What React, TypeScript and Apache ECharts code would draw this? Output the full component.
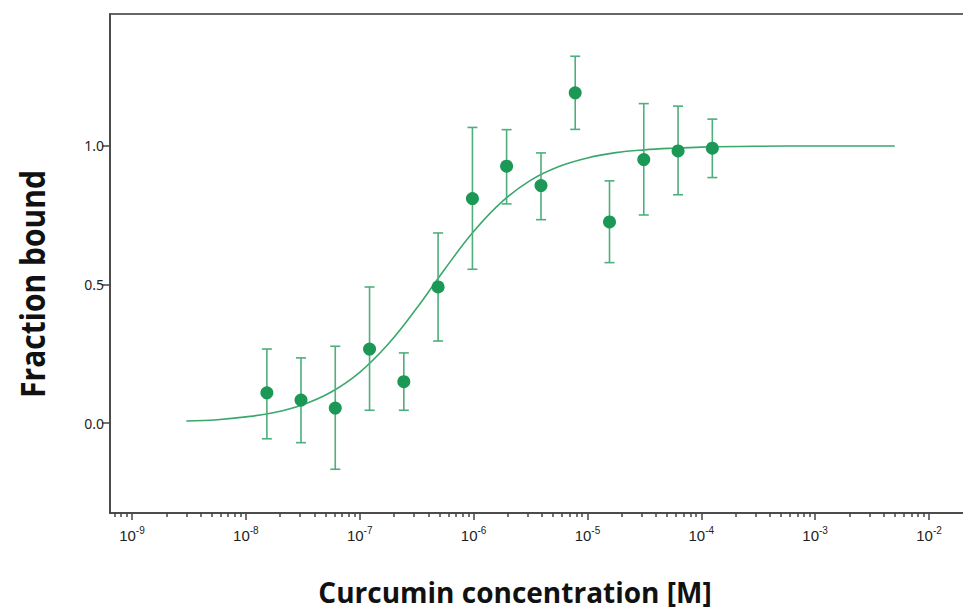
import React, { useEffect, useRef } from "react";
import * as echarts from "echarts";

// Measured data (concentration in M, fraction bound, error bar low/high)
const concentrations = [
  1.53e-8, 3.05e-8, 6.1e-8, 1.22e-7, 2.44e-7, 4.88e-7, 9.77e-7, 1.95e-6,
  3.91e-6, 7.81e-6, 1.5625e-5, 3.125e-5, 6.25e-5, 1.25e-4,
];
const fractionBound = [
  0.109, 0.083, 0.054, 0.267, 0.149, 0.491, 0.81, 0.927, 0.857, 1.192, 0.726,
  0.951, 0.982, 0.992,
];
const errLow = [
  -0.057, -0.071, -0.167, 0.046, 0.046, 0.296, 0.555, 0.791, 0.734, 1.06,
  0.579, 0.751, 0.824, 0.886,
];
const errHigh = [
  0.267, 0.235, 0.277, 0.491, 0.253, 0.686, 1.067, 1.059, 0.975, 1.324, 0.874,
  1.153, 1.144, 1.097,
];

// Fitted curve
const fitConc = [
  3e-9, 5.62e-9, 1e-8, 1.78e-8, 3.16e-8, 5.62e-8, 1e-7, 1.78e-7, 3.16e-7,
  5.62e-7, 1e-6, 1.78e-6, 3.16e-6, 5.62e-6, 1e-5, 1.78e-5, 3.16e-5, 5.62e-5,
  1e-4, 3.16e-4, 1e-3, 5e-3,
];
const fitValue = [
  0.007, 0.012, 0.022, 0.038, 0.066, 0.112, 0.183, 0.285, 0.414, 0.557, 0.691,
  0.799, 0.876, 0.926, 0.957, 0.976, 0.986, 0.992, 0.996, 0.999, 1.0, 1.0,
];

const xMajorExponents = [-9, -8, -7, -6, -5, -4, -3, -2];
const yTickValues = [0, 0.5, 1.0];

const X_MIN = -9.1932;
const X_MAX = -1.64;
const Y_MIN = -0.3249;
const Y_MAX = 1.4765;

const minorTicks: number[] = [];
for (let d = -10; d <= -2; d++) {
  for (let k = 2; k <= 9; k++) {
    const v = Math.log10(k) + d;
    if (v > X_MIN && v < X_MAX) minorTicks.push(v);
  }
}

export default function App() {
  const ref = useRef<HTMLDivElement>(null);
  useEffect(() => {
    document.body.style.margin = "0";
    const chart = echarts.init(ref.current!, null, { renderer: "svg" });
    const pts = concentrations.map((c, i) => [Math.log10(c), fractionBound[i]]);
    const errs = concentrations.map((c, i) => [Math.log10(c), errLow[i], errHigh[i]]);
    const fit = fitConc.map((c, i) => [Math.log10(c), fitValue[i]]);
    const axisColor = "#444";
    chart.setOption({
      animation: false,
      backgroundColor: "#fff",
      grid: {
        left: 110,
        top: 14,
        width: 860,
        height: 499,
        show: true,
        borderColor: "#666",
        borderWidth: 2,
        outerBoundsMode: "none",
        containLabel: false,
      },
      xAxis: [
        {
          type: "value",
          min: X_MIN,
          max: X_MAX,
          position: "bottom",
          axisLine: { show: true, onZero: false, lineStyle: { color: axisColor, width: 1.5 } },
          axisTick: {
            show: true,
            customValues: xMajorExponents,
            length: 7,
            lineStyle: { color: axisColor, width: 1.5 },
          },
          axisLabel: {
            customValues: xMajorExponents,
            margin: 12,
            formatter: (v: number) => `{b|10}{s|${Math.round(v)}}`,
            rich: {
              b: { fontSize: 15, fontFamily: "Liberation Sans", color: "#222", lineHeight: 18, verticalAlign: "bottom" },
              s: { fontSize: 10, fontFamily: "Liberation Sans", color: "#222", lineHeight: 18, verticalAlign: "top" },
            },
          },
          splitLine: { show: false },
        },
        {
          type: "value",
          min: X_MIN,
          max: X_MAX,
          position: "bottom",
          axisLine: { show: false, onZero: false },
          axisTick: {
            show: true,
            customValues: minorTicks,
            length: 4,
            lineStyle: { color: axisColor, width: 1.5 },
          },
          axisLabel: { show: false },
          splitLine: { show: false },
        },
      ],
      yAxis: {
        type: "value",
        min: Y_MIN,
        max: Y_MAX,
        axisLine: { show: true, onZero: false, lineStyle: { color: axisColor, width: 1.5 } },
        axisTick: {
          show: true,
          customValues: yTickValues,
          length: 8,
          lineStyle: { color: axisColor, width: 1.5 },
        },
        axisLabel: {
          customValues: yTickValues,
          margin: 6,
          formatter: (v: number) => v.toFixed(1),
          fontSize: 14,
          fontFamily: "Noto Sans",
          color: "#222",
        },
        splitLine: { show: false },
      },
      series: [
        {
          type: "line",
          data: fit,
          smooth: 0.4,
          showSymbol: false,
          symbol: "none",
          lineStyle: { color: "#3aa86d", width: 1.6 },
          z: 2,
        },
        {
          type: "custom",
          data: errs,
          z: 3,
          renderItem: (params: any, api: any) => {
            const x = api.value(0);
            const lo = api.coord([x, api.value(1)]);
            const hi = api.coord([x, api.value(2)]);
            const hw = 5;
            const style = { stroke: "#4daf7b", lineWidth: 1.6 };
            return {
              type: "group",
              children: [
                { type: "line", shape: { x1: lo[0], y1: lo[1], x2: hi[0], y2: hi[1] }, style },
                { type: "line", shape: { x1: lo[0] - hw, y1: lo[1], x2: lo[0] + hw, y2: lo[1] }, style },
                { type: "line", shape: { x1: hi[0] - hw, y1: hi[1], x2: hi[0] + hw, y2: hi[1] }, style },
              ],
            };
          },
        },
        {
          type: "scatter",
          data: pts,
          symbolSize: 13,
          itemStyle: { color: "#1b9756", opacity: 1 },
          z: 4,
        },
      ],
      graphic: [
        {
          type: "text",
          x: 32,
          y: 284,
          rotation: Math.PI / 2,
          scaleY: 1.12,
          style: {
            text: "Fraction bound",
            fontSize: 30,
            fontWeight: "bold",
            fontFamily: "Open Sans",
            fill: "#111",
            textAlign: "center",
            textVerticalAlign: "middle",
          },
        },
        {
          type: "text",
          x: 515,
          y: 592,
          style: {
            text: "Curcumin concentration [M]",
            fontSize: 28,
            fontWeight: "bold",
            fontFamily: "Open Sans",
            fill: "#111",
            textAlign: "center",
            textVerticalAlign: "middle",
          },
        },
      ],
    });
    return () => chart.dispose();
  }, []);
  return (
    <div
      ref={ref}
      style={{ position: "absolute", left: 0, top: 0, width: 963, height: 610 }}
    />
  );
}
